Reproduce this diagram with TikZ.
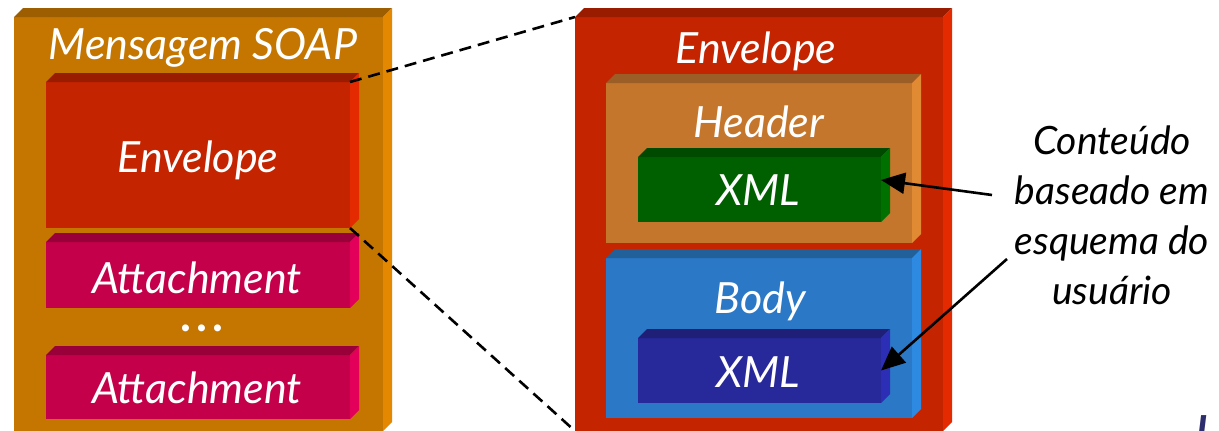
\documentclass[tikz,border=0pt]{standalone}
\usepackage{fontspec}
\setmainfont{Lato}
\usetikzlibrary{arrows.meta,positioning,calc}

\definecolor{soapF}{HTML}{C47600}\definecolor{soapT}{HTML}{9C5E00}\definecolor{soapS}{HTML}{E38800}
\definecolor{envF}{HTML}{C42400}\definecolor{envT}{HTML}{9A1C00}\definecolor{envS}{HTML}{E32A00}
\definecolor{attF}{HTML}{C4004A}\definecolor{attT}{HTML}{99003A}\definecolor{attS}{HTML}{E2005A}
\definecolor{hdrF}{HTML}{C4762C}\definecolor{hdrT}{HTML}{9A5E26}\definecolor{hdrS}{HTML}{E08A34}
\definecolor{grnF}{HTML}{006000}\definecolor{grnT}{HTML}{004A00}\definecolor{grnS}{HTML}{007000}
\definecolor{bdyF}{HTML}{2B78C6}\definecolor{bdyT}{HTML}{22609A}\definecolor{bdyS}{HTML}{2E8AE0}
\definecolor{navF}{HTML}{27289A}\definecolor{navT}{HTML}{1F1F78}\definecolor{navS}{HTML}{2C2EB5}
\definecolor{pgnum}{HTML}{2E2E6E}

% raised edges of a slab: top strip and right strip
\newcommand{\bevel}[3]{%
  \fill[#2] (#1.north west) -- ++(9,-9) -- ($(#1.north east)+(9,-9)$) -- (#1.north east) -- cycle;
  \fill[#3] (#1.north east) -- ++(9,-9) -- ($(#1.south east)+(9,-9)$) -- (#1.south east) -- cycle;
}

\begin{document}
\begin{tikzpicture} [x=1pt, y=-1pt,
  slab/.style={rectangle, inner sep=0pt, outer sep=0pt},
  lbl/.style={text=white, anchor=base, font=\fontsize{43}{50}\selectfont\itshape},
  link/.style={dashed, dash pattern=on 12pt off 7pt, line width=2.6pt},
  arr/.style={-{Triangle[length=24pt,width=21pt]}, line width=2.6pt}
]
\clip (0,0) rectangle (1219,431);

% left: SOAP message
\node[slab, fill=soapF, minimum width=369pt, minimum height=414pt] (soap) at (198.5,224) {};
\bevel{soap}{soapT}{soapS}
\node[slab, fill=envF, minimum width=304pt, minimum height=146pt] (envL) at (198,155) {};
\bevel{envL}{envT}{envS}
\node[slab, fill=attF, minimum width=304pt, minimum height=66pt] (att1) at (198,275) {};
\bevel{att1}{attT}{attS}
\node[slab, fill=attF, minimum width=304pt, minimum height=64pt] (att2) at (198,387) {};
\bevel{att2}{attT}{attS}

\node[lbl] (soapLbl) at (203,59) {Mensagem SOAP};
\node[lbl] (envLLbl) at (198,172) {Envelope};
\node[lbl] (att1Lbl) at (197,293) {Attachment};
\node[lbl] (att2Lbl) at (197,403) {Attachment};
\node[lbl, font=\fontsize{46}{50}\selectfont\bfseries, inner sep=0pt, text height=8pt, text depth=0pt]
  (dots) at (202,331) {.\hspace{5pt}.\hspace{5pt}.};

% right: the envelope opened
\node[slab, fill=envF, minimum width=368pt, minimum height=414pt] (env) at (759,224) {};
\bevel{env}{envT}{envS}
\node[slab, fill=hdrF, minimum width=306pt, minimum height=160pt] (hdr) at (759,163) {};
\bevel{hdr}{hdrT}{hdrS}
\node[slab, fill=grnF, minimum width=243pt, minimum height=65pt] (xml1) at (759.5,189.5) {};
\bevel{xml1}{grnT}{grnS}
\node[slab, fill=bdyF, minimum width=306pt, minimum height=160pt] (body) at (759,338) {};
\bevel{body}{bdyT}{bdyS}
\node[slab, fill=navF, minimum width=243pt, minimum height=65pt] (xml2) at (759.5,370.5) {};
\bevel{xml2}{navT}{navS}

\node[lbl] (envLbl) at (756,63) {Envelope};
\node[lbl] (hdrLbl) at (759,137) {Header};
\node[lbl] (xml1Lbl) at (758,205) {XML};
\node[lbl] (bodyLbl) at (760,313) {Body};
\node[lbl] (xml2Lbl) at (758,387) {XML};

\node[align=center, font=\fontsize{39}{50}\selectfont\itshape] (note) at (1112,215)
  {Conteúdo\\baseado em\\esquema do\\usuário};
\node[anchor=base, text=pgnum, font=\fontsize{40}{48}\selectfont\bfseries\itshape] (pg) at (1202,444) {I};

\coordinate (n1) at (992,195);
\coordinate (n2) at (1007,259);

\path[link]
(envL.north east) edge (env.north west)
(envL.south east) edge (env.south west)
;
\path[arr]
(n1) edge ([yshift=9.5pt]xml1.east)
(n2) edge (xml2.east)
;
\end{tikzpicture}
\end{document}
